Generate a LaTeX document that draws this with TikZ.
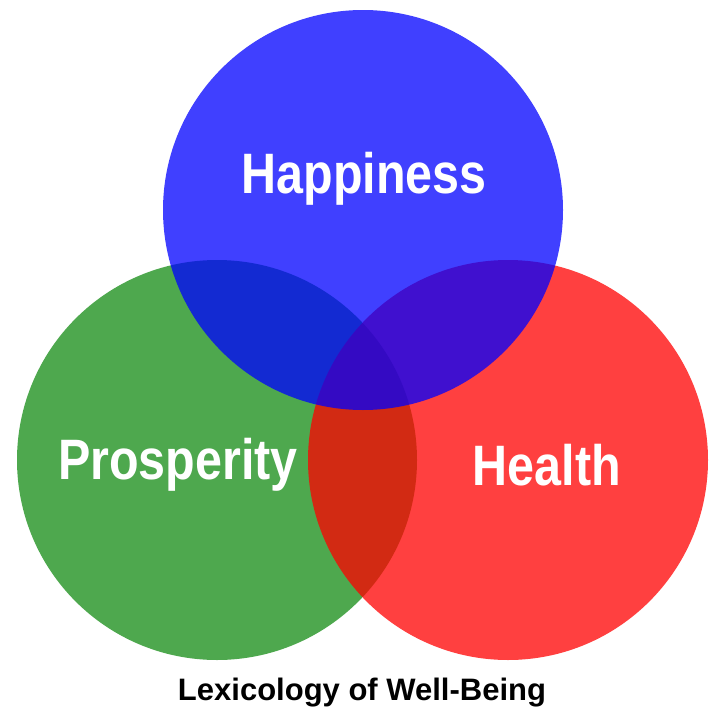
\documentclass[tikz,border=0pt]{standalone}
\usepackage{fontspec}
\setmainfont{Liberation Sans}
\begin{document}
\begin{tikzpicture}[x=1pt,y=-1pt,
  circ/.style={fill opacity=0.75,draw=none},
  lbl/.style={text=white,font=\bfseries\fontsize{57}{60}\selectfont,xscale=0.85},
  captext/.style={text=black,font=\bfseries\fontsize{31}{34}\selectfont}]
\useasboundingbox (0,0) rectangle (720,720);
\fill[white] (0,0) rectangle (720,720);
\fill[circ,fill={rgb,255:red,20;green,140;blue,20}] (217,460) circle[radius=200];
\fill[circ,fill={rgb,255:red,255;green,0;blue,0}] (508,460) circle[radius=200];
\fill[circ,fill={rgb,255:red,0;green,0;blue,255}] (363,210) circle[radius=200];
\node[lbl] (hap) at (364,179) {Happiness};
\node[lbl] (pro) at (178,465) {Prosperity};
\node[lbl] (hea) at (547,465) {Health};
\node[captext] (title) at (362,693) {Lexicology of Well-Being};
\end{tikzpicture}
\end{document}
